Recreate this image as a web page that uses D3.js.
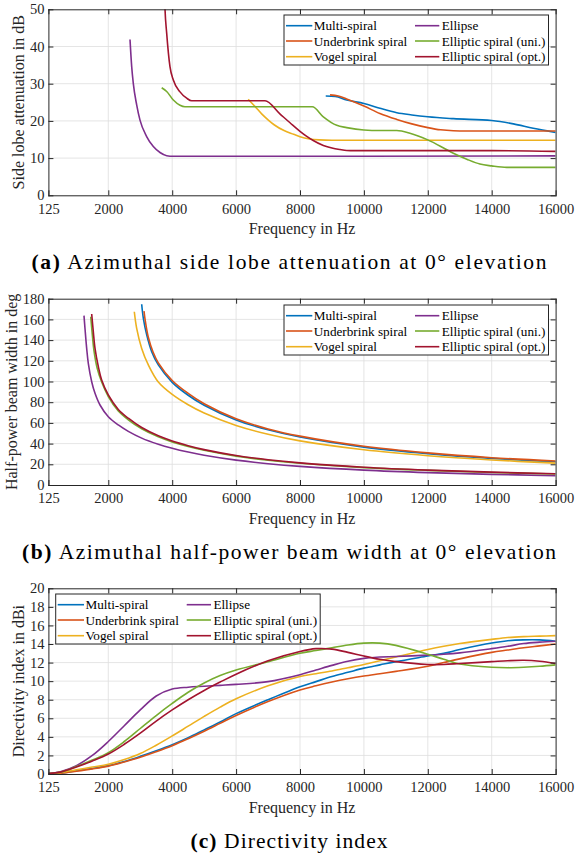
<!DOCTYPE html>
<html><head><meta charset="utf-8">
<script src="https://cdn.jsdelivr.net/npm/d3@7"></script>
<style>body{margin:0;background:#fff}svg{display:block}</style>
</head><body>
<svg id="chart" width="576" height="854"></svg>
<script>
// ---------- data ----------
const seriesNames = ["Multi-spiral","Underbrink spiral","Vogel spiral","Ellipse","Elliptic spiral (uni.)","Elliptic spiral (opt.)"];
const seriesColors = ["#0072BD","#D95319","#EDB120","#7E2F8E","#77AC30","#A2142F"];
const xTickValues = [125,2000,4000,6000,8000,10000,12000,14000,16000];

// (a) side lobe attenuation in dB  [frequency Hz, value]
const slaMulti = [[8805,26.7],[9100,26.6],[9460,25.6],[10000,24.7],[10500,23.4],[11030,22.2],[11500,21.6],[12000,21.1],[12800,20.6],[14000,20.1],[14680,19.2],[15300,18.0],[16000,16.9]];
const slaUnder = [[8940,27.0],[9200,26.7],[9460,25.9],[10000,24.0],[10500,22.0],[11030,20.4],[11500,19.2],[12000,18.2],[12400,17.6],[12800,17.35],[13200,17.3],[16000,17.3]];
const slaVogel = [[6382,25.8],[6600,23.8],[6800,21.9],[7000,20.3],[7200,18.9],[7500,17.4],[7800,16.4],[8000,15.75],[8300,15.15],[8600,14.9],[9000,14.8],[16000,14.8]];
const slaEllipse = [[2679,41.9],[2732,34.6],[2782,30.1],[2888,24.3],[2992,20.2],[3200,15.8],[3409,13.1],[3618,11.5],[3827,10.65],[4035,10.5],[10000,10.5],[16000,10.6]];
const slaUni = [[3671,28.9],[3827,27.9],[4035,25.6],[4244,24.2],[4400,23.8],[8385,23.8],[8730,21.1],[9150,18.8],[9460,18.2],[10000,17.55],[10500,17.4],[11030,17.4],[11440,16.7],[12000,14.9],[12480,12.8],[12800,11.3],[13220,9.7],[13630,8.4],[14000,7.9],[14470,7.5],[16000,7.5]];
const slaOpt = [[3740,60],[3775,50],[3827,43.6],[3930,34.6],[4035,31.0],[4244,27.8],[4453,26.1],[4610,25.4],[6905,25.4],[7370,21.9],[7687,19.5],[8000,17.2],[8200,15.9],[8400,14.8],[8730,13.4],[9000,12.7],[9250,12.3],[9460,12.05],[9700,12.0],[14000,12.0],[16000,11.8]];

// (b) half-power beam width in deg
const hpbwMulti = [[3045,174.6],[3097,161],[3202,145],[3358,128.8],[3565,116],[4000,99.2],[4500,86.7],[5000,77],[6000,62.8],[7000,53.3],[8000,46.3],[10000,36.6],[12000,30.3],[14000,25.7],[16000,22.4]];
const hpbwUnder = [[3117,168],[3160,158],[3250,143],[3400,128.5],[3565,118],[4000,101],[4500,88.5],[5000,78.5],[6000,64],[7000,54.2],[8000,47.2],[10000,37.4],[12000,31],[14000,26.4],[16000,23.2]];
const hpbwVogel = [[2814,167.4],[2888,151.4],[3045,132],[3253,116],[3565,99.5],[4000,87.5],[4500,77.5],[5000,69.5],[6000,57.5],[7000,49],[8000,42.6],[10000,34],[12000,28.3],[14000,24.2],[16000,21.1]];
const hpbwEllipse = [[1239,163.6],[1271,151],[1323,132],[1374,117.6],[1480,99.8],[1584,88.6],[1740,77.3],[2000,66],[2313,58],[2626,51.8],[3045,45.3],[3565,39.4],[4000,35.5],[4500,31.8],[5000,28.7],[6000,24],[7000,20.6],[8000,18],[10000,14.4],[12000,12],[14000,10.3],[16000,9.0]];
const hpbwUni = [[1449,162.6],[1500,145],[1550,130],[1650,113],[1792,99.5],[2000,85.5],[2313,71.5],[2626,63],[3045,54.3],[3565,46.5],[4000,41.6],[4500,37.2],[5000,33.5],[6000,27.9],[7000,23.9],[8000,21],[10000,16.8],[12000,14.1],[14000,12.1],[16000,10.6]];
const hpbwOpt = [[1480,165.2],[1531,148],[1584,132],[1688,114.3],[1792,101.4],[2000,87],[2313,73],[2626,64.5],[3045,55.5],[3565,47.5],[4000,42.5],[4500,38],[5000,34.2],[6000,28.5],[7000,24.4],[8000,21.4],[10000,17.2],[12000,14.4],[14000,12.4],[16000,10.9]];

// (c) directivity index in dBi
const diFreq = [125,500,1000,1500,2000,2500,3000,3500,4000,4500,5000,5500,6000,7000,8000,8500,9000,9500,10000,10500,11000,12000,12500,13000,14000,14500,15000,15500,16000];
const diMulti = [0.03,0.08,0.35,0.6,0.9,1.35,1.9,2.5,3.15,3.9,4.75,5.6,6.5,8.0,9.4,9.95,10.5,10.95,11.4,11.75,12.1,12.7,13.0,13.4,14.1,14.35,14.45,14.45,14.3];
const diUnder = [0.03,0.08,0.3,0.55,0.85,1.3,1.8,2.4,3.05,3.8,4.6,5.45,6.3,7.8,9.05,9.5,9.9,10.25,10.55,10.8,11.05,11.6,12.0,12.4,13.1,13.35,13.6,13.8,14.0];
const diVogel = [0.03,0.15,0.45,0.75,1.05,1.55,2.2,3.1,4.1,5.15,6.2,7.2,8.1,9.5,10.5,10.8,11.1,11.45,11.8,12.2,12.6,13.4,13.75,14.05,14.5,14.7,14.8,14.85,14.9];
const diEllipse = [0.05,0.25,0.9,2.0,3.5,5.2,6.9,8.4,9.15,9.35,9.45,9.55,9.65,9.95,10.7,11.2,11.7,12.15,12.45,12.6,12.65,12.8,12.9,13.05,13.5,13.75,14.05,14.2,14.3];
const diUni = [0.05,0.2,0.8,1.5,2.3,3.5,4.9,6.3,7.6,8.8,9.8,10.6,11.2,12.1,13.0,13.3,13.6,13.9,14.1,14.1,13.85,12.9,12.35,11.85,11.5,11.45,11.5,11.6,11.75];
const diOpt = [0.05,0.2,0.75,1.4,2.15,3.2,4.4,5.7,6.9,8.0,9.0,9.9,10.75,12.2,13.2,13.5,13.45,13.1,12.7,12.35,12.1,11.8,11.8,11.9,12.1,12.2,12.25,12.15,11.9];

// ---------- drawing ----------
const svg = d3.select("#chart");
const AX = "#262626";
const AXFONT = "Liberation Serif, Times New Roman, serif";
const CAPFONT = "Liberation Serif, Times New Roman, serif";
const left = 48.4, right = 555.6;
const x = d3.scaleLinear().domain([125,16000]).range([left,right]);

const zipDI = vals => diFreq.map((f,i)=>[f,vals[i]]);

const panels = [
  {top:9.3,bottom:195.3,ymax:50,ystep:10,ytitle:"Side lobe attenuation in dB",ytx:18.5,
   cap:"(a)",capText:" Azimuthal side lobe attenuation at 0° elevation",capW:515,legX:284,legY:15,
   curve:d3.curveMonotoneX,
   data:[slaMulti,slaUnder,slaVogel,slaEllipse,slaUni,slaOpt]},
  {top:298.7,bottom:485,ymax:180,ystep:20,ytitle:"Half-power beam width in deg",ytx:11.7,
   cap:"(b)",capText:" Azimuthal half-power beam width at 0° elevation",capW:534,legX:284,legY:305,
   curve:d3.curveCatmullRom.alpha(0.5),
   data:[hpbwMulti,hpbwUnder,hpbwVogel,hpbwEllipse,hpbwUni,hpbwOpt]},
  {top:588.3,bottom:774,ymax:20,ystep:2,ytitle:"Directivity index in dBi",ytx:18,
   cap:"(c)",capText:" Directivity index",capW:197,legX:55.7,legY:594,
   curve:d3.curveCatmullRom.alpha(0.5),
   data:[zipDI(diMulti),zipDI(diUnder),zipDI(diVogel),zipDI(diEllipse),zipDI(diUni),zipDI(diOpt)]}
];

panels.forEach((p,pi)=>{
  const g = svg.append("g");
  const y = d3.scaleLinear().domain([0,p.ymax]).range([p.bottom,p.top]);
  const yTicks = d3.range(0,p.ymax+0.001,p.ystep);

  // grid
  g.append("g").selectAll("line").data(xTickValues.slice(1,-1)).join("line")
    .attr("x1",d=>x(d)).attr("x2",d=>x(d)).attr("y1",p.top).attr("y2",p.bottom)
    .attr("stroke","#dedede").attr("stroke-width",0.8);
  g.append("g").selectAll("line").data(yTicks.slice(1,-1)).join("line")
    .attr("x1",left).attr("x2",right).attr("y1",d=>y(d)).attr("y2",d=>y(d))
    .attr("stroke","#dedede").attr("stroke-width",0.8);

  // clip
  const cid = "clip"+pi;
  svg.append("clipPath").attr("id",cid).append("rect")
    .attr("x",left).attr("y",p.top).attr("width",right-left).attr("height",p.bottom-p.top);

  // lines
  const line = d3.line().x(d=>x(d[0])).y(d=>y(d[1])).curve(p.curve);
  const lg = g.append("g").attr("clip-path",`url(#${cid})`);
  p.data.forEach((ser,i)=>{
    lg.append("path").datum(ser).attr("d",line)
      .attr("fill","none").attr("stroke",seriesColors[i]).attr("stroke-width",1.6)
      .attr("stroke-linejoin","round");
  });

  // axes
  const styleAxis = sel => {
    sel.select(".domain").attr("stroke",AX).attr("stroke-width",1);
    sel.selectAll(".tick line").attr("stroke",AX).attr("stroke-width",1);
    sel.selectAll(".tick text").attr("fill",AX).attr("font-family",AXFONT).attr("font-size",14.5);
  };
  g.append("g").attr("transform",`translate(0,${p.bottom})`)
    .call(d3.axisBottom(x).tickValues(xTickValues).tickFormat(d3.format("d")).tickSizeInner(-5).tickSizeOuter(0).tickPadding(8))
    .call(styleAxis);
  g.append("g").attr("transform",`translate(0,${p.top})`)
    .call(d3.axisTop(x).tickValues(xTickValues).tickFormat("").tickSizeInner(-5).tickSizeOuter(0))
    .call(styleAxis);
  g.append("g").attr("transform",`translate(${left},0)`)
    .call(d3.axisLeft(y).tickValues(yTicks).tickFormat(d3.format("d")).tickSizeInner(-5).tickSizeOuter(0).tickPadding(4))
    .call(styleAxis);
  g.append("g").attr("transform",`translate(${right},0)`)
    .call(d3.axisRight(y).tickValues(yTicks).tickFormat("").tickSizeInner(-5).tickSizeOuter(0))
    .call(styleAxis);
  g.selectAll(".domain").attr("stroke-linecap","square");

  // axis titles
  g.append("text").attr("x",(left+right)/2).attr("y",p.bottom+33.4)
    .attr("text-anchor","middle").attr("dominant-baseline","central")
    .attr("font-family",AXFONT).attr("font-size",16).attr("fill",AX).text("Frequency in Hz");
  g.append("text").attr("transform",`translate(${p.ytx},${(p.top+p.bottom)/2}) rotate(-90)`)
    .attr("text-anchor","middle").attr("dominant-baseline","central")
    .attr("font-family",AXFONT).attr("font-size",16).attr("fill",AX).text(p.ytitle);

  // legend
  const L = g.append("g").attr("transform",`translate(${p.legX},${p.legY})`);
  L.append("rect").attr("x",0).attr("y",0).attr("width",264.5).attr("height",50)
    .attr("fill","#fff").attr("stroke",AX).attr("stroke-width",1);
  const rowY = [10.7,26,41.7];
  const colX = [[2,28.3,29.8],[131,155.3,157.7]];
  seriesNames.forEach((n,i)=>{
    const c = Math.floor(i/3), r = i%3;
    L.append("line").attr("x1",colX[c][0]).attr("x2",colX[c][1]).attr("y1",rowY[r]).attr("y2",rowY[r])
      .attr("stroke",seriesColors[i]).attr("stroke-width",1.6);
    L.append("text").attr("x",colX[c][2]).attr("y",rowY[r]).attr("dominant-baseline","central")
      .attr("font-family",AXFONT).attr("font-size",13.2).attr("fill","#000").text(n);
  });

  // caption
  const capY = p.bottom + 66.7;
  const t = svg.append("text").attr("x",289).attr("y",capY).attr("text-anchor","middle")
    .attr("dominant-baseline","central").attr("font-family",CAPFONT).attr("font-size",21.5)
    .attr("fill","#000").attr("textLength",p.capW).attr("lengthAdjust","spacing");
  t.append("tspan").attr("font-weight","bold").text(p.cap);
  t.append("tspan").text(p.capText);
});
</script>
</body></html>
